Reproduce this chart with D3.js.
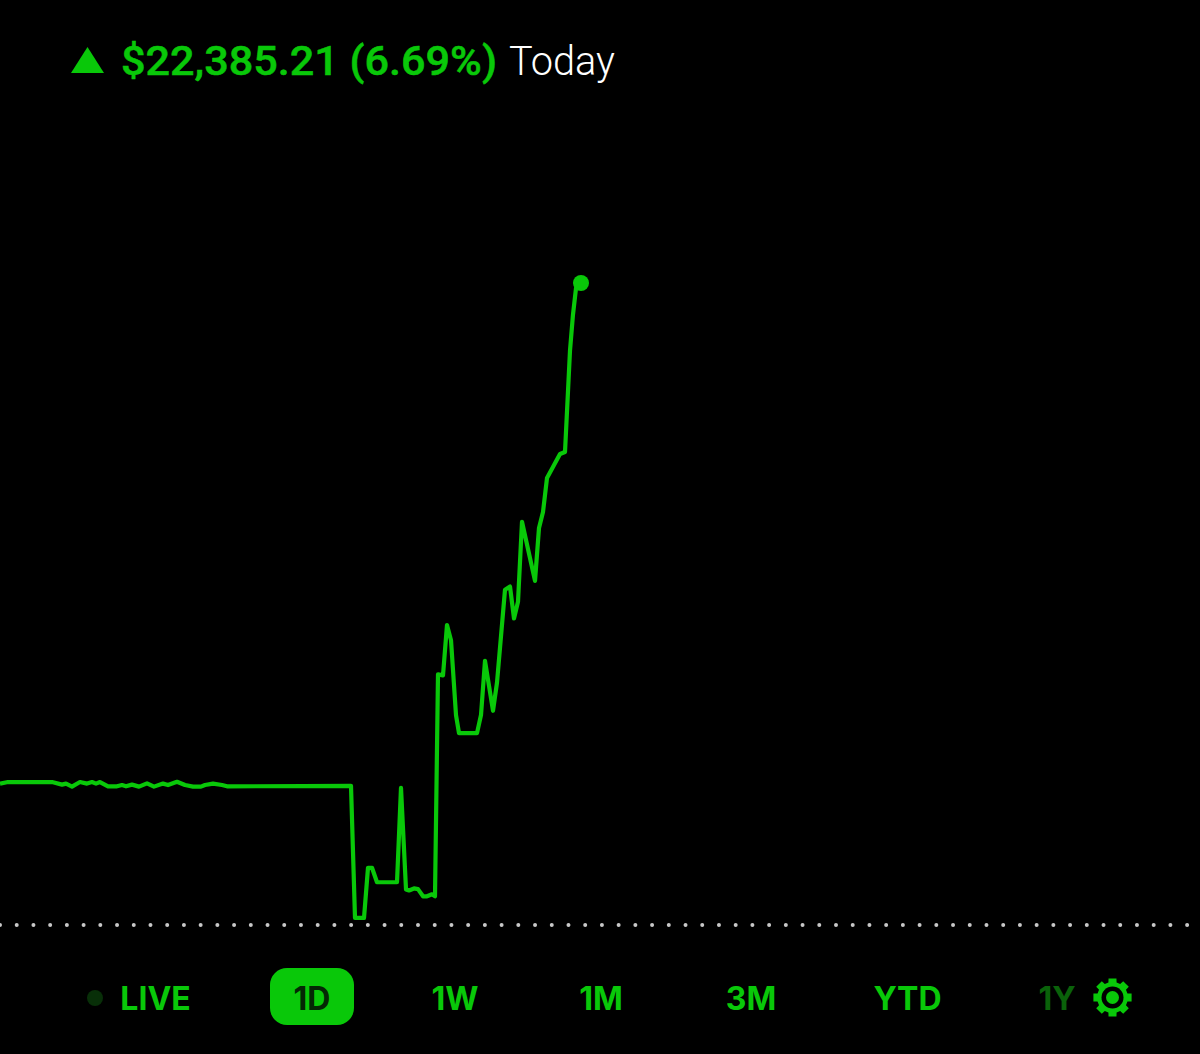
<!DOCTYPE html>
<html><head><meta charset="utf-8">
<script src="https://cdnjs.cloudflare.com/ajax/libs/d3/7.8.5/d3.min.js"></script>
<style>html,body{margin:0;padding:0;background:#000;overflow:hidden}svg{display:block}</style>
</head><body><svg id="c" width="1200" height="1054"></svg>
<script>
// Minutes since the session start (16 h session across the width)
const minutes=[0,6.4,41.6,49.6,52.8,57.6,64,69.6,73.6,76.8,80,86.4,93.6,97.6,100.8,105.6,111.2,117.6,123.2,130.4,134.4,141.6,148,154.4,160.8,164,170.4,177.6,181.6,280.8,284,291.2,294.4,297.6,301.6,317.6,320.8,324.8,327.2,331.2,334.4,338.4,341.6,345.6,348,350.4,354.4,357.6,360.8,364.8,367.2,381.6,384.8,388,394.4,397.6,404,408,411.2,414.4,417.6,428,431.2,434.4,437.6,448,452,456,458.4,460.8];
// Gain over previous close, in dollars
const gains=[4930,4985,4985,4895,4930,4825,4985,4930,4985,4930,4985,4835,4835,4880,4835,4895,4825,4940,4825,4930,4880,4995,4880,4825,4825,4880,4930,4880,4835,4850,245,245,1995,1995,1490,1490,4780,1240,1205,1275,1250,1000,1000,1070,1000,8740,8705,10460,9930,7320,6690,6690,7320,9210,7470,8450,11690,11800,10690,11270,14060,12000,13843,14401,15587,16424,16493,20030,21290,22200];
const lastGain=22385.21;
const headerGain="$22,385.21 (6.69%)";
const headerWord="Today";
const ranges=["LIVE","1D","1W","1M","3M","YTD","1Y"];
const rangeCentres=[155.5,312,455,601,751,907.5,1057];
const activeRange="1D", dimRange="1Y";

const green="#09c809";
const svg=d3.select("#c");
const x=d3.scaleLinear().domain([0,960]).range([0,1200]);
const y=d3.scaleLinear().domain([0,lastGain]).range([925,283]);

// previous close dotted line
svg.append("line").attr("x1",0).attr("x2",1200).attr("y1",y(0)).attr("y2",y(0))
  .attr("stroke","#c8c8c8").attr("stroke-width",4).attr("stroke-linecap","round").attr("stroke-dasharray","0 16.72");

// price line
const allT=[...minutes,464.8], allV=[...gains,lastGain];
const line=d3.line().x(d=>x(d[0])).y(d=>y(d[1])).curve(d3.curveLinear);
svg.append("path").attr("d",line(allT.map((t,i)=>[t,allV[i]])))
  .attr("fill","none").attr("stroke",green).attr("stroke-width",4.2).attr("stroke-linejoin","round");
svg.append("circle").attr("cx",x(464.8)).attr("cy",y(lastGain)).attr("r",8).attr("fill",green);

// header
svg.append("path").attr("d",d3.line()([[71,73],[87.5,47],[104,73]])+"Z").attr("fill",green);
svg.append("text").attr("x",121).attr("y",75).attr("font-family","Roboto").attr("font-weight",500)
  .attr("font-size",41).attr("textLength",376).attr("lengthAdjust","spacingAndGlyphs").attr("fill",green)
  .attr("stroke",green).attr("stroke-width",0.5).text(headerGain);
svg.append("text").attr("x",509).attr("y",75).attr("font-family","Roboto").attr("font-weight",300)
  .attr("font-size",41).attr("textLength",106).attr("lengthAdjust","spacingAndGlyphs").attr("fill","#fff").text(headerWord);

// range tabs
svg.append("rect").attr("x",270).attr("y",968).attr("width",84).attr("height",57).attr("rx",17).attr("fill",green);
svg.append("circle").attr("cx",95).attr("cy",998).attr("r",8).attr("fill","#082f08");
svg.selectAll("text.tab").data(ranges).join("text").attr("class","tab")
  .attr("x",(d,i)=>rangeCentres[i]).attr("y",1010).attr("text-anchor","middle")
  .attr("font-family","Inter").attr("font-weight",700).attr("font-size",32)
  .attr("fill",d=>d===activeRange?"#042704":d===dimRange?"#0a620a":green).text(d=>d);

// gear
const teeth=8, pts=[];
for(let k=0;k<teeth;k++){const a=k*2*Math.PI/teeth, w=Math.PI/teeth;
  pts.push([a-w*0.52,19.5],[a+w*0.52,19.5],[a+w*0.68,15.5],[a+w*1.32,15.5]);}
const gear=svg.append("g").attr("transform","translate(1112.5,997.5)");
gear.append("path").attr("d",d3.lineRadial().angle(d=>d[0]).radius(d=>d[1])(pts)+"Z").attr("fill",green);
gear.append("circle").attr("r",11).attr("fill","#000");
gear.append("circle").attr("r",6.5).attr("fill",green);
</script></body></html>
